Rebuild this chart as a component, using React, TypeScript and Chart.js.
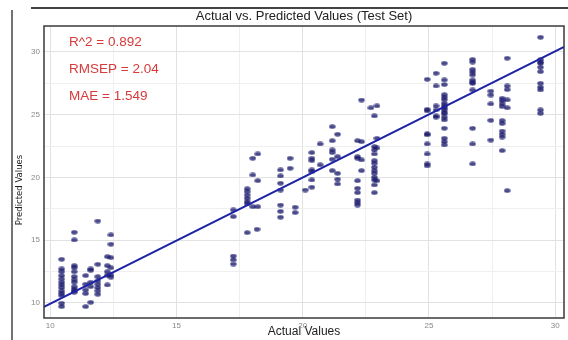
import React, { useEffect, useRef } from "react";
import { Chart, registerables } from "chart.js";

Chart.register(...registerables);

const chartTitle = "Actual vs. Predicted Values (Test Set)";
const xTitle = "Actual Values";
const yTitle = "Predicted Values";
const metricLabels = ["R^2 = 0.892", "RMSEP = 2.04", "MAE = 1.549"];

const gridValues = [10, 12.5, 15, 17.5, 20, 22.5, 25, 27.5, 30];
const xRange = [9.75, 30.35];
const yRange = [8.8, 32.07];

// fitted regression line end points
const fitX = [9.75, 30.35];
const fitY = [9.68, 30.4];

// actual value levels and the predicted values observed at each level
const actualLevels = [
  10.45, 10.95, 11.4, 11.6, 11.88, 12.26, 12.4,
  17.25, 17.8, 18.02, 18.19, 18.22, 19.12, 19.5, 19.7, 20.1,
  20.36, 20.69, 21.17, 21.38, 22.17, 22.33, 22.7, 22.84, 22.94,
  24.93, 25.28, 25.61, 26.73, 27.45, 27.9, 28.1, 29.42,
];
const predictedByLevel = [
  [13.48, 12.71, 12.49, 12.18, 11.91, 11.65, 11.43, 11.22, 10.96, 10.77, 10.58, 9.98, 9.71],
  [15.63, 15.02, 12.97, 12.8, 12.49, 12.1, 11.85, 11.65, 11.3, 11.1, 10.96, 10.85],
  [12.18, 11.49, 11.04, 10.75, 9.71],
  [12.71, 12.6, 11.65, 11.3, 10.05],
  [16.53, 13.08, 12.1, 11.75, 11.49, 11.22, 10.96, 10.69],
  [13.69, 12.97, 12.49, 12.2, 11.43],
  [15.42, 14.68, 13.61, 12.8, 12.23, 12.05],
  [17.41, 16.88, 13.74, 13.43, 13.1],
  [19.1, 18.87, 18.6, 18.34, 18.07, 17.89, 15.6],
  [21.53, 20.2, 17.67],
  [15.87],
  [21.87, 19.74, 17.67],
  [20.6, 20.12, 19.54, 19.0, 17.8, 17.3, 16.83],
  [21.53, 20.73],
  [17.63, 17.2],
  [19.0],
  [21.98, 21.53, 21.34, 20.6, 20.46, 19.8, 19.22],
  [22.67, 21.0],
  [24.05, 22.93, 22.19, 21.98, 21.45, 20.54],
  [23.44, 21.66, 20.33, 19.86, 19.48],
  [22.93, 21.66, 21.53, 19.74, 19.14, 18.79, 18.2, 17.99, 17.8],
  [26.17, 22.85, 21.4, 20.54],
  [25.55],
  [24.9, 22.45, 22.19, 21.87, 21.34, 21.13, 20.81, 20.54, 20.33, 20.02, 19.8, 19.4, 18.79],
  [25.7, 23.12, 22.35, 19.74],
  [27.82, 25.43, 25.3, 23.47, 23.39, 22.67, 21.87, 21.08, 20.92],
  [28.3, 27.29, 25.7, 25.38, 24.9, 24.8],
  [29.1, 27.77, 27.4, 26.6, 26.4, 26.2, 25.91, 25.7, 25.55, 25.4, 25.2, 25.06, 24.8, 24.58, 23.92, 23.12, 22.85, 22.59],
  [29.41, 29.2, 28.61, 28.4, 28.17, 27.77, 27.6, 27.5, 26.97, 23.92, 22.67, 21.08],
  [26.88, 26.57, 25.86, 24.55, 22.98],
  [26.31, 26.1, 25.86, 25.65, 24.53, 24.3, 23.7, 23.45, 23.22, 22.14],
  [29.5, 27.29, 27.0, 26.18, 25.55, 18.95],
  [31.17, 29.4, 29.2, 29.1, 28.78, 28.43, 27.5, 27.19, 26.97, 25.38, 25.11],
];

const SANS = "'Liberation Sans', Arial, Helvetica, sans-serif";
const NARROW = "'Liberation Sans Narrow', 'DejaVu Sans Condensed', 'Liberation Sans', sans-serif";

function makeDot(): HTMLCanvasElement {
  const c = document.createElement("canvas");
  c.width = 7;
  c.height = 5;
  const g = c.getContext("2d")!;
  g.fillStyle = "rgba(24,24,108,0.78)";
  g.beginPath();
  g.ellipse(3.5, 2.5, 3.2, 2.2, 0, 0, Math.PI * 2);
  g.fill();
  return c;
}

const decorPlugin = {
  id: "decor",
  afterDraw(chart: any) {
    const { ctx, chartArea: a } = chart;
    ctx.save();
    ctx.strokeStyle = "#3a3a3a";
    ctx.lineWidth = 1.5;
    ctx.strokeRect(a.left, a.top, a.right - a.left, a.bottom - a.top);
    ctx.strokeStyle = "#444";
    ctx.lineWidth = 1.5;
    ctx.beginPath();
    ctx.moveTo(12, 10);
    ctx.lineTo(12, 340);
    ctx.stroke();
    ctx.lineWidth = 2;
    ctx.beginPath();
    ctx.moveTo(31, 8);
    ctx.lineTo(568, 8);
    ctx.stroke();
    // y axis title
    ctx.save();
    ctx.translate(20, 190);
    ctx.rotate(-Math.PI / 2);
    ctx.fillStyle = "#222";
    ctx.font = "9.5px " + NARROW;
    ctx.textAlign = "center";
    ctx.textBaseline = "middle";
    ctx.fillText(yTitle, 0, 0);
    ctx.restore();
    // metrics
    ctx.fillStyle = "#d63a3a";
    ctx.font = "13.5px " + SANS;
    ctx.textBaseline = "middle";
    ctx.textAlign = "left";
    metricLabels.forEach((t, i) => ctx.fillText(t, a.left + 25, a.top + 16 + i * 27));
    ctx.restore();
  },
};

export default function App() {
  const ref = useRef<HTMLCanvasElement>(null);
  useEffect(() => {
    document.body.style.margin = "0";
    const points: { x: number; y: number }[] = [];
    actualLevels.forEach((x, i) => predictedByLevel[i].forEach((y) => points.push({ x, y })));
    const dot = makeDot();
    const gridColor = (c: any) => (c.tick && c.tick.value % 5 === 0 ? "#e2e2e2" : "#efefef");
    const chart = new Chart(ref.current!, {
      type: "scatter",
      data: {
        datasets: [
          {
            type: "line",
            data: fitX.map((x, i) => ({ x, y: fitY[i] })),
            borderColor: "#1e22a6",
            borderWidth: 2,
            pointRadius: 0,
            fill: false,
          } as any,
          {
            data: points,
            pointStyle: dot as any,
            pointRadius: 3,
            backgroundColor: "rgba(24,24,108,0.78)",
            borderWidth: 0,
          },
        ],
      },
      options: {
        responsive: false,
        animation: false,
        layout: { padding: { left: 0, right: 1, top: 0, bottom: 0 } },
        plugins: {
          legend: { display: false },
          tooltip: { enabled: false },
          title: {
            display: true,
            text: chartTitle,
            fullSize: false,
            color: "#222",
            font: { family: SANS, size: 13, weight: "normal" },
            padding: { top: 9, bottom: 1.4 },
          },
        },
        scales: {
          x: {
            type: "linear",
            min: xRange[0],
            max: xRange[1],
            afterBuildTicks: (s: any) => {
              s.ticks = gridValues.map((v) => ({ value: v }));
            },
            afterFit: (s: any) => {
              s.height = 22;
            },
            ticks: {
              callback: (v: any) => (Number(v) % 5 === 0 ? String(v) : ""),
              color: "#888",
              font: { family: SANS, size: 8 },
              padding: 3,
              maxRotation: 0,
              autoSkip: false,
            },
            grid: { color: gridColor, drawTicks: false, lineWidth: 1 },
            border: { display: false },
            title: {
              display: true,
              text: xTitle,
              color: "#222",
              font: { family: SANS, size: 12 },
              padding: { top: 0, bottom: 1 },
            },
          },
          y: {
            type: "linear",
            min: yRange[0],
            max: yRange[1],
            afterBuildTicks: (s: any) => {
              s.ticks = gridValues.map((v) => ({ value: v }));
            },
            afterFit: (s: any) => {
              s.width = 44;
            },
            ticks: {
              callback: (v: any) => (Number(v) % 5 === 0 ? String(v) : ""),
              color: "#888",
              font: { family: SANS, size: 8 },
              padding: 4,
              autoSkip: false,
            },
            grid: { color: gridColor, drawTicks: false, lineWidth: 1 },
            border: { display: false },
            title: { display: false },
          },
        },
      },
      plugins: [decorPlugin],
    });
    return () => chart.destroy();
  }, []);
  return (
    <div style={{ position: "fixed", left: 0, top: 0, width: 568, height: 340, background: "#fff" }}>
      <canvas ref={ref} width={568} height={340} />
    </div>
  );
}
